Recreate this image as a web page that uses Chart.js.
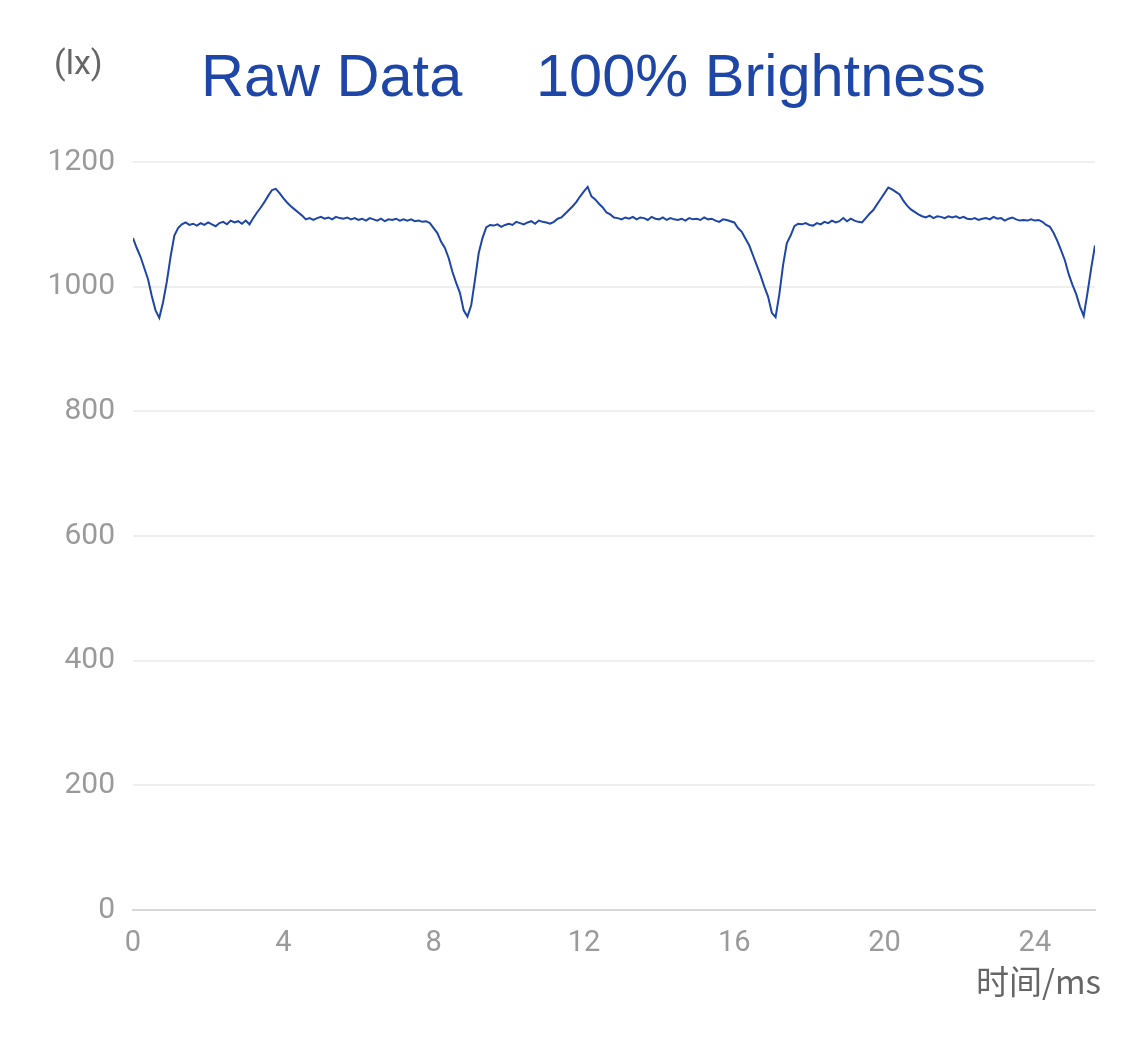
<!DOCTYPE html>
<html>
<head>
<meta charset="utf-8">
<script src="https://cdn.jsdelivr.net/npm/chart.js@4/dist/chart.umd.min.js"></script>
<style>
  html, body { margin: 0; padding: 0; background: #fff; }
  #wrap { width: 1125px; height: 1040px; position: relative; }
</style>
</head>
<body>
<div id="wrap"><canvas id="luxChart" width="1125" height="1040"></canvas></div>
<script>
// Sampling step of the trace (ms) and raw lux readings, one per step from 0 ms
const sampleStepMs = 0.1;
const luxValues = [
  1078, 1062, 1048, 1030, 1012, 985, 962, 950, 975, 1008,
  1048, 1082, 1094, 1100, 1103, 1099, 1101, 1098, 1102, 1099,
  1103, 1100, 1097, 1102, 1104, 1100, 1106, 1103, 1105, 1101,
  1106, 1100, 1110, 1119, 1127, 1136, 1146, 1155, 1157, 1150,
  1142, 1135, 1129, 1124, 1119, 1114, 1108, 1110, 1107, 1110,
  1112, 1109, 1111, 1108, 1112, 1110, 1109, 1111, 1108, 1110,
  1107, 1109, 1106, 1110, 1108, 1106, 1109, 1105, 1108, 1107,
  1109, 1106, 1108, 1106, 1108, 1105, 1106, 1104, 1105, 1102,
  1094, 1086, 1072, 1062, 1046, 1024, 1006, 990, 962, 952,
  970, 1011, 1054, 1078, 1095, 1099, 1098, 1100, 1096, 1099,
  1101, 1099, 1104, 1102, 1100, 1103, 1105, 1101, 1106, 1104,
  1103, 1101, 1104, 1109, 1111, 1117, 1123, 1129, 1136, 1145,
  1153, 1160, 1145, 1140, 1133, 1127, 1119, 1116, 1111, 1110,
  1108, 1111, 1109, 1112, 1108, 1111, 1110, 1107, 1112, 1109,
  1108, 1111, 1107, 1110, 1108, 1107, 1109, 1106, 1110, 1108,
  1109, 1107, 1111, 1108, 1109, 1106, 1104, 1108, 1107, 1105,
  1103, 1094, 1088, 1077, 1066, 1050, 1034, 1018, 1000, 984,
  958, 951, 988, 1035, 1070, 1082, 1097, 1101, 1100, 1102,
  1099, 1098, 1102, 1100, 1104, 1102, 1106, 1103, 1105, 1110,
  1105, 1109, 1106, 1104, 1103, 1110, 1117, 1123, 1132, 1141,
  1150, 1159, 1156, 1152, 1148, 1138, 1130, 1124, 1120, 1116,
  1113, 1111, 1114, 1110, 1113, 1112, 1110, 1113, 1111, 1113,
  1110, 1112, 1109, 1108, 1110, 1107, 1109, 1110, 1108, 1112,
  1109, 1110, 1106, 1109, 1111, 1108, 1106, 1107, 1106, 1108,
  1106, 1107, 1104, 1099, 1096, 1086, 1073, 1058, 1042, 1020,
  1003, 988, 968, 953, 990, 1030, 1066
];
const xTickValues = [0, 4, 8, 12, 16, 20, 24];
const yTickValues = [0, 200, 400, 600, 800, 1000, 1200];
const titleLeft = "Raw Data";
const titleRight = "100% Brightness";
const yUnit = "(lx)";
const xUnit = "时间/ms";

const lineBlue = "#1e46a6";
const tickGray = "#9a9a9a";
const unitGray = "#666666";

const points = luxValues.map((v, i) => ({ x: +(i * sampleStepMs).toFixed(1), y: v }));

// Title and unit texts drawn on top of the chart
const textPlugin = {
  id: "textPlugin",
  afterDraw(chart) {
    const ctx = chart.ctx;
    ctx.save();
    ctx.textBaseline = "alphabetic";
    ctx.fillStyle = lineBlue;
    ctx.font = "59.5px 'Liberation Sans', Arial, sans-serif";
    ctx.textAlign = "left";
    ctx.fillText(titleLeft, 201, 96);
    ctx.fillText(titleRight, 536, 96);

    ctx.fillStyle = unitGray;
    ctx.font = "34px Roboto, sans-serif";
    ctx.fillText(yUnit, 54, 74);

    ctx.font = "33px 'Noto Sans CJK SC', Roboto, sans-serif";
    ctx.textAlign = "right";
    ctx.fillText(xUnit, 1101, 994);
    ctx.restore();
  },
};

new Chart(document.getElementById("luxChart"), {
  type: "line",
  data: {
    datasets: [
      {
        data: points,
        borderColor: lineBlue,
        borderWidth: 2,
        pointRadius: 0,
        tension: 0,
        fill: false,
      },
    ],
  },
  options: {
    responsive: false,
    animation: false,
    layout: { padding: { top: 162, right: 30, left: 0, bottom: 0 } },
    plugins: {
      legend: { display: false },
      tooltip: { enabled: false },
    },
    scales: {
      x: {
        type: "linear",
        min: 0,
        max: 25.6,
        afterFit: (scale) => { scale.height = 130; },
        afterBuildTicks: (scale) => { scale.ticks = xTickValues.map((v) => ({ value: v })); },
        grid: { display: false, drawTicks: false },
        border: { display: true, color: "#d9d9d9", width: 2 },
        ticks: {
          color: tickGray,
          font: { family: "Roboto", size: 29 },
          padding: 16,
          maxRotation: 0,
          callback: (value) => String(value),
        },
      },
      y: {
        min: 0,
        max: 1200,
        afterFit: (scale) => { scale.width = 133; },
        afterBuildTicks: (scale) => { scale.ticks = yTickValues.map((v) => ({ value: v })); },
        grid: { color: "#efefef", lineWidth: 2, drawTicks: false },
        border: { display: false },
        ticks: {
          color: tickGray,
          font: { family: "Roboto", size: 30 },
          padding: 18,
          callback: (value) => String(value),
        },
      },
    },
  },
  plugins: [textPlugin],
});
</script>
</body>
</html>
